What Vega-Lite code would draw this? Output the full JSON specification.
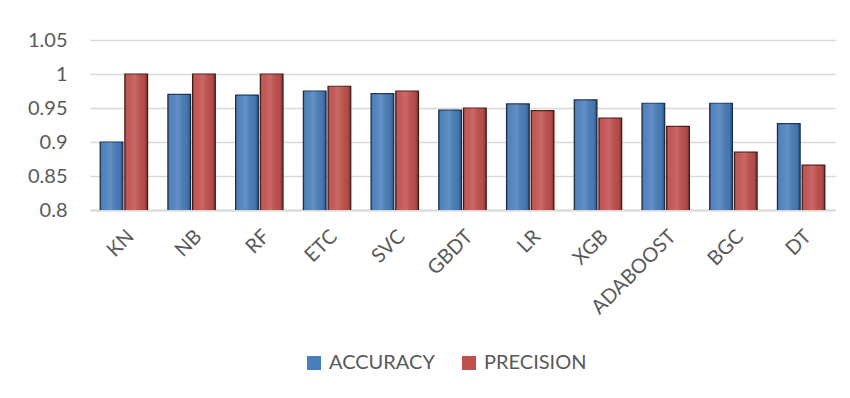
{
  "$schema": "https://vega.github.io/schema/vega-lite/v6.json",
  "autosize": {"type": "none"},
  "padding": {"left": 90, "top": 40, "right": 15, "bottom": 188},
  "width": 745,
  "height": 170,
  "background": "white",
  "config": {
    "view": {"stroke": null},
    "font": "Lato"
  },
  "data": {
    "values": [
      {"model": "KN", "metric": "ACCURACY", "value": 0.900},
      {"model": "KN", "metric": "PRECISION", "value": 1.000},
      {"model": "NB", "metric": "ACCURACY", "value": 0.970},
      {"model": "NB", "metric": "PRECISION", "value": 1.000},
      {"model": "RF", "metric": "ACCURACY", "value": 0.969},
      {"model": "RF", "metric": "PRECISION", "value": 1.000},
      {"model": "ETC", "metric": "ACCURACY", "value": 0.975},
      {"model": "ETC", "metric": "PRECISION", "value": 0.982},
      {"model": "SVC", "metric": "ACCURACY", "value": 0.971},
      {"model": "SVC", "metric": "PRECISION", "value": 0.975},
      {"model": "GBDT", "metric": "ACCURACY", "value": 0.947},
      {"model": "GBDT", "metric": "PRECISION", "value": 0.950},
      {"model": "LR", "metric": "ACCURACY", "value": 0.956},
      {"model": "LR", "metric": "PRECISION", "value": 0.946},
      {"model": "XGB", "metric": "ACCURACY", "value": 0.962},
      {"model": "XGB", "metric": "PRECISION", "value": 0.935},
      {"model": "ADABOOST", "metric": "ACCURACY", "value": 0.957},
      {"model": "ADABOOST", "metric": "PRECISION", "value": 0.923},
      {"model": "BGC", "metric": "ACCURACY", "value": 0.957},
      {"model": "BGC", "metric": "PRECISION", "value": 0.885},
      {"model": "DT", "metric": "ACCURACY", "value": 0.927},
      {"model": "DT", "metric": "PRECISION", "value": 0.866}
    ]
  },
  "encoding": {
    "x": {
      "field": "model", "type": "nominal", "sort": null,
      "scale": {"paddingInner": 0.3, "paddingOuter": 0.15},
      "axis": {
        "title": null, "labelAngle": -45, "labelFontSize": 20, "labelColor": "#595959",
        "labelPadding": 16, "ticks": false, "domainColor": "#D9D9D9", "domainWidth": 2,
        "labelFont": "Lato"
      }
    },
    "xOffset": {"field": "metric", "type": "nominal", "sort": ["ACCURACY", "PRECISION"], "scale": {"paddingInner": 0.08}},
    "y": {
      "field": "value", "type": "quantitative",
      "scale": {"domain": [0.8, 1.05], "zero": false, "nice": false},
      "axis": {
        "title": null, "values": [0.8, 0.85, 0.9, 0.95, 1, 1.05], "format": ".2~f",
        "labelFontSize": 20, "labelColor": "#595959", "labelPadding": 23,
        "ticks": false, "domain": false, "gridColor": "#D9D9D9", "gridWidth": 1.5,
        "labelFont": "Lato"
      }
    }
  },
  "layer": [
    {
      "mark": {"type": "bar", "clip": true, "strokeWidth": 1.2},
      "encoding": {
        "color": {
          "field": "metric", "type": "nominal", "sort": ["ACCURACY", "PRECISION"],
          "scale": {"domain": ["ACCURACY", "PRECISION"], "range": ["#4A7EBB", "#C0504D"]},
          "legend": {
            "title": null, "orient": "none", "direction": "horizontal",
            "legendX": 214, "legendY": 313,
            "symbolType": "square", "symbolSize": 196, "symbolStrokeWidth": 0,
            "labelFontSize": 20, "labelColor": "#595959", "labelFont": "Lato",
            "columnPadding": 24, "labelOffset": 5
          }
        },
        "stroke": {
          "field": "metric", "type": "nominal",
          "scale": {"domain": ["ACCURACY", "PRECISION"], "range": ["#1A3454", "#521A18"]},
          "legend": null
        }
      }
    },
    {
      "mark": {
        "type": "bar", "clip": true,
        "fill": {
          "gradient": "linear", "x1": 0, "x2": 1, "y1": 0, "y2": 0,
          "stops": [
            {"offset": 0, "color": "rgba(0,0,0,0.28)"},
            {"offset": 0.15, "color": "rgba(255,255,255,0.04)"},
            {"offset": 0.45, "color": "rgba(255,255,255,0.14)"},
            {"offset": 0.85, "color": "rgba(0,0,0,0.05)"},
            {"offset": 1, "color": "rgba(0,0,0,0.35)"}
          ]
        }
      },
      "encoding": {}
    }
  ]
}
